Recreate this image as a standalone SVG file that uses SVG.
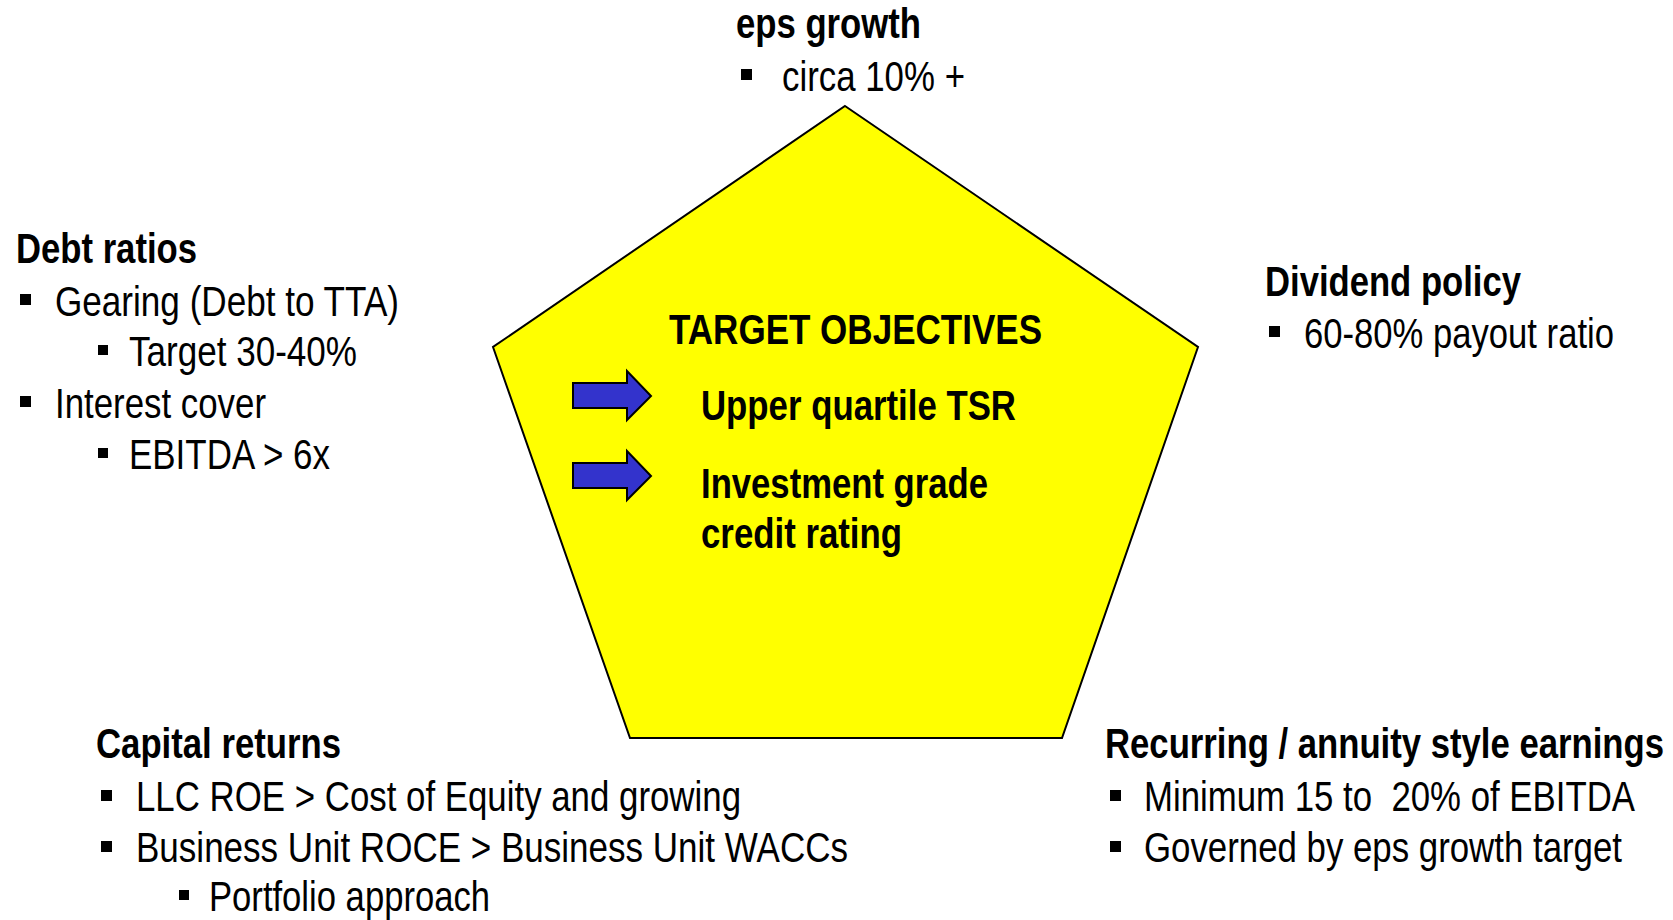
<svg xmlns="http://www.w3.org/2000/svg" width="1673" height="920" viewBox="0 0 1673 920">
  <style>
    text { font-family: "Liberation Sans Narrow", "Liberation Sans", "DejaVu Sans Condensed", sans-serif; font-size: 42px; fill: #000; }
    .h { font-weight: bold; }
    .pent { fill: #FFFF00; stroke: #000; stroke-width: 2; stroke-linejoin: miter; }
    .arrow { fill: #3333CC; stroke: #000; stroke-width: 2; }
  </style>
  <defs>
    <rect id="bullet" width="11" height="11" fill="#000"/>
    <rect id="subbullet" width="10" height="10" fill="#000"/>
  </defs>
  <rect width="1673" height="920" fill="#fff"/>

  <!-- central pentagon with target objectives -->
  <g id="target-objectives">
    <polygon class="pent" points="845,106 1198,347 1062,738 630,738 493,347"/>
    <text class="h" x="669" y="344" textLength="373" lengthAdjust="spacingAndGlyphs">TARGET OBJECTIVES</text>
    <path class="arrow" d="M573,383 H627 V371 L651,396 L627,420 V408 H573 Z"/>
    <text class="h" x="701" y="420" textLength="315" lengthAdjust="spacingAndGlyphs">Upper quartile TSR</text>
    <path class="arrow" d="M573,463 H627 V451 L651,476 L627,500 V488 H573 Z"/>
    <text class="h" x="701" y="498" textLength="287" lengthAdjust="spacingAndGlyphs">Investment grade</text>
    <text class="h" x="701" y="548" textLength="201" lengthAdjust="spacingAndGlyphs">credit rating</text>
  </g>

  <!-- top: eps growth -->
  <g id="eps-growth">
    <text class="h" x="736" y="38" textLength="185" lengthAdjust="spacingAndGlyphs">eps growth</text>
    <use href="#bullet" x="741" y="69"/>
    <text x="782" y="91" textLength="183" lengthAdjust="spacingAndGlyphs">circa 10% +</text>
  </g>

  <!-- left: debt ratios -->
  <g id="debt-ratios">
    <text class="h" x="16" y="263" textLength="181" lengthAdjust="spacingAndGlyphs">Debt ratios</text>
    <use href="#bullet" x="20" y="294"/>
    <text x="55" y="316" textLength="344" lengthAdjust="spacingAndGlyphs">Gearing (Debt to TTA)</text>
    <use href="#subbullet" x="98" y="345"/>
    <text x="129" y="366" textLength="228" lengthAdjust="spacingAndGlyphs">Target 30-40%</text>
    <use href="#bullet" x="20" y="396"/>
    <text x="55" y="418" textLength="211" lengthAdjust="spacingAndGlyphs">Interest cover</text>
    <use href="#subbullet" x="98" y="448"/>
    <text x="129" y="469" textLength="201" lengthAdjust="spacingAndGlyphs">EBITDA &gt; 6x</text>
  </g>

  <!-- right: dividend policy -->
  <g id="dividend-policy">
    <text class="h" x="1265" y="296" textLength="256" lengthAdjust="spacingAndGlyphs">Dividend policy</text>
    <use href="#bullet" x="1269" y="326"/>
    <text x="1304" y="348" textLength="310" lengthAdjust="spacingAndGlyphs">60-80% payout ratio</text>
  </g>

  <!-- bottom left: capital returns -->
  <g id="capital-returns">
    <text class="h" x="96" y="758" textLength="245" lengthAdjust="spacingAndGlyphs">Capital returns</text>
    <use href="#bullet" x="101" y="790"/>
    <text x="136" y="811" textLength="605" lengthAdjust="spacingAndGlyphs">LLC ROE &gt; Cost of Equity and growing</text>
    <use href="#bullet" x="101" y="841"/>
    <text x="136" y="862" textLength="712" lengthAdjust="spacingAndGlyphs">Business Unit ROCE &gt; Business Unit WACCs</text>
    <use href="#subbullet" x="179" y="890"/>
    <text x="209" y="911" textLength="281" lengthAdjust="spacingAndGlyphs">Portfolio approach</text>
  </g>

  <!-- bottom right: recurring earnings -->
  <g id="recurring-earnings">
    <text class="h" x="1105" y="758" textLength="559" lengthAdjust="spacingAndGlyphs">Recurring / annuity style earnings</text>
    <use href="#bullet" x="1110" y="790"/>
    <text x="1144" y="811" xml:space="preserve" textLength="491" lengthAdjust="spacingAndGlyphs">Minimum 15 to  20% of EBITDA</text>
    <use href="#bullet" x="1110" y="841"/>
    <text x="1144" y="862" textLength="478" lengthAdjust="spacingAndGlyphs">Governed by eps growth target</text>
  </g>

  <!-- no connectors in this figure -->
  <g id="connectors"/>
</svg>
